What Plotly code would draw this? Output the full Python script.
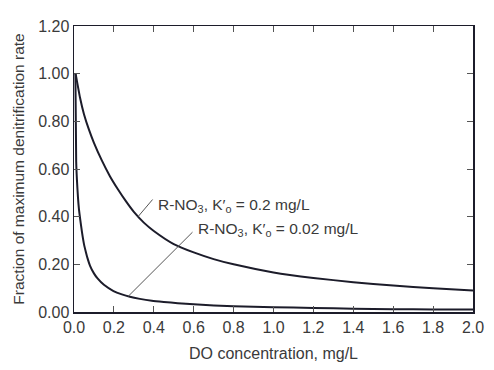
import plotly.graph_objects as go

# Curve readings (DO concentration mg/L, fraction of max rate)
x_k02 = [0.008, 0.03, 0.05, 0.075, 0.1, 0.14, 0.18, 0.22, 0.26, 0.3, 0.35, 0.4, 0.5, 0.6, 0.7, 0.8, 1.0, 1.2, 1.4, 1.6, 1.8, 2.0]
y_k02 = [1.0, 0.90, 0.83, 0.765, 0.71, 0.635, 0.57, 0.515, 0.465, 0.42, 0.375, 0.34, 0.285, 0.25, 0.222, 0.2, 0.166, 0.143, 0.125, 0.111, 0.10, 0.09]

x_k002 = [0.007, 0.011, 0.015, 0.02, 0.025, 0.031, 0.04, 0.05, 0.06, 0.068, 0.08, 0.1, 0.117, 0.15, 0.198, 0.24, 0.28, 0.33, 0.39, 0.45, 0.52, 0.6, 0.8, 1.0, 1.2, 1.4, 1.6, 1.8, 2.0]
y_k002 = [1.0, 0.63, 0.55, 0.48, 0.43, 0.39, 0.335, 0.285, 0.25, 0.225, 0.195, 0.162, 0.142, 0.114, 0.088, 0.074, 0.064, 0.055, 0.047, 0.042, 0.037, 0.032, 0.024, 0.02, 0.017, 0.014, 0.012, 0.011, 0.01]

label_k02 = "R-NO<sub>3</sub>, K′<sub>o</sub> = 0.2 mg/L"
label_k002 = "R-NO<sub>3</sub>, K′<sub>o</sub> = 0.02 mg/L"
label_k02_pos = (0.41, 0.445)
label_k002_pos = (0.61, 0.345)
leader_k02 = [(0.394, 0.472), (0.321, 0.40)]
leader_k002 = [(0.594, 0.335), (0.272, 0.066)]

x_ticks = [0.0, 0.2, 0.4, 0.6, 0.8, 1.0, 1.2, 1.4, 1.6, 1.8, 2.0]
y_ticks = [0.0, 0.2, 0.4, 0.6, 0.8, 1.0, 1.2]

ink = "#1c1c2a"
txt = "#3a3a3a"
font = "Liberation Sans, Arial, sans-serif"

fig = go.Figure()
for xs, ys in [(x_k02, y_k02), (x_k002, y_k002)]:
    fig.add_trace(go.Scatter(x=xs, y=ys, mode="lines",
                             line=dict(color=ink, width=2, shape="spline", smoothing=0.5),
                             showlegend=False, hoverinfo="skip"))

for (x0, y0), (x1, y1) in [leader_k02, leader_k002]:
    fig.add_shape(type="line", x0=x0, y0=y0, x1=x1, y1=y1, xref="x", yref="y",
                  line=dict(color="#555555", width=1))

for text, (ax, ay) in [(label_k02, label_k02_pos), (label_k002, label_k002_pos)]:
    fig.add_annotation(x=ax, y=ay, text=text, showarrow=False, xanchor="left",
                       yanchor="middle", font=dict(family=font, size=15.5, color=txt))

axis_common = dict(showline=True, linecolor=ink, linewidth=1.5, mirror="ticks",
                   ticks="inside", ticklen=6, tickcolor="#555555", tickwidth=1,
                   showgrid=False, zeroline=False,
                   tickfont=dict(family=font, size=16, color=txt))

fig.update_xaxes(range=[0, 2.0], tickvals=x_ticks, tickformat=".1f",
                 title=dict(text="DO concentration, mg/L", standoff=13,
                            font=dict(family=font, size=16, color=txt)),
                 **axis_common)
fig.update_yaxes(range=[0, 1.2], tickvals=y_ticks, tickformat=".2f",
                 title=dict(text="Fraction of maximum denitrification rate", standoff=9,
                            font=dict(family=font, size=15.5, color=txt)),
                 **axis_common)

# the page body adds an 8px offset, so the figure is 8px smaller in each direction
fig.update_layout(width=486, height=362, margin=dict(l=63, r=10, t=14, b=50),
                  paper_bgcolor="white", plot_bgcolor="white", hovermode=False)

fig.write_html("out.html", config={"displayModeBar": False, "staticPlot": True})
